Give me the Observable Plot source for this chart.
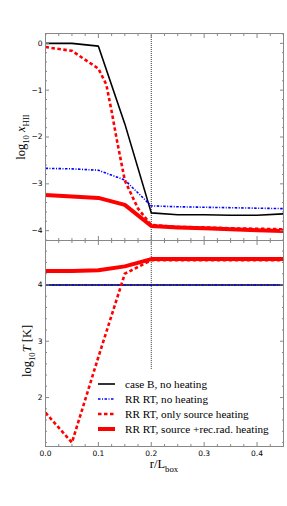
<!DOCTYPE html>
<html><head><meta charset="utf-8">
<script src="https://cdn.jsdelivr.net/npm/d3@7"></script>
<script src="https://cdn.jsdelivr.net/npm/@observablehq/plot@0.6"></script>
<style>
html,body{margin:0;padding:0;background:#fff;}
#chart svg{display:block;}
</style></head><body><div id="chart"></div>
<script>
// ---- data ----
const r = [0, 0.05, 0.1, 0.15, 0.2, 0.25, 0.3, 0.35, 0.4, 0.45];
const xHII_caseB   = [0, 0, -0.06, -1.72, -3.62, -3.66, -3.66, -3.67, -3.67, -3.64];
const xHII_rrNoHeat = [-2.67, -2.68, -2.71, -2.92, -3.47, -3.49, -3.50, -3.51, -3.52, -3.53];
const r_src = [0, 0.05, 0.1, 0.115, 0.125, 0.135, 0.15, 0.175, 0.2, 0.25, 0.3, 0.35, 0.4, 0.45];
const xHII_rrSource = [-0.08, -0.16, -0.54, -0.88, -1.45, -2.07, -2.93, -3.53, -3.88, -3.92, -3.93, -3.95, -3.96, -3.97];
const xHII_rrFull  = [-3.24, -3.27, -3.30, -3.45, -3.90, -3.93, -3.95, -3.97, -3.99, -4.01];

const T_caseB   = [4, 4, 4, 4, 4, 4, 4, 4, 4, 4];
const T_rrNoHeat = [4, 4, 4, 4, 4, 4, 4, 4, 4, 4];
const T_rrSource = [1.73, 1.2, 2.72, 4.2, 4.44, 4.44, 4.44, 4.44, 4.44, 4.44];
const T_rrFull  = [4.25, 4.25, 4.26, 4.33, 4.46, 4.46, 4.46, 4.46, 4.46, 4.46];

const markerR = [0.2];
const markerTLow = 2.5;

const xTicks = [0, 0.1, 0.2, 0.3, 0.4];
const xTickLabels = ["0.0", "0.1", "0.2", "0.3", "0.4"];
const xMinor = [0.025, 0.05, 0.075, 0.125, 0.15, 0.175, 0.225, 0.25, 0.275, 0.325, 0.35, 0.375, 0.425];
const yTicksTop = [0, -1, -2, -3, -4];
const yTickLabelsTop = ["0", "−1", "−2", "−3", "−4"];
const yMinorTop = [0.2, -0.2, -0.4, -0.6, -0.8, -1.2, -1.4, -1.6, -1.8, -2.2, -2.4, -2.6, -2.8, -3.2, -3.4, -3.6, -3.8, -4.2];
const yTicksBot = [2, 3, 4];
const yTickLabelsBot = ["2", "3", "4"];
const yMinorBot = [1.2, 1.4, 1.6, 1.8, 2.2, 2.4, 2.6, 2.8, 3.2, 3.4, 3.6, 3.8, 4.2, 4.4, 4.6];

const legendLabels = ["case B, no heating", "RR RT, no heating", "RR RT, only source heating", "RR RT, source +rec.rad. heating"];

// ---- styles ----
const W = 287, ML = 45, MR = 4;
const frameColor = "#888";
const sBlack = {stroke: "black", strokeWidth: 1.6, strokeLinecap: "butt"};
const sBlue = {stroke: "#0000ff", strokeWidth: 1.6, strokeDasharray: "2.5,1.5,1,1.5", strokeLinecap: "butt"};
const sRedDash = {stroke: "#ff0000", strokeWidth: 2.6, strokeDasharray: "3.5,2.5", strokeLinecap: "butt"};
const sRedThick = {stroke: "#ff0000", strokeWidth: 4, strokeLinecap: "butt"};
const styles = [sBlack, sBlue, sRedDash, sRedThick];

const pts = (xs, ys) => xs.map((x, i) => ({x, y: ys[i]}));

function tickMarks(xMaj, xMin, yMaj, yMin, yLabels, showX) {
  const m = [];
  for (const a of ["left", "right"]) {
    m.push(Plot.axisY({anchor: a, ticks: yMaj, tickSize: -4, fill: "none", stroke: frameColor}));
    m.push(Plot.axisY({anchor: a, ticks: yMin, tickSize: -2, fill: "none", stroke: frameColor}));
  }
  for (const a of ["top", "bottom"]) {
    m.push(Plot.axisX({anchor: a, ticks: xMaj, tickSize: -4, fill: "none", stroke: frameColor}));
    m.push(Plot.axisX({anchor: a, ticks: xMin, tickSize: -2, fill: "none", stroke: frameColor}));
  }
  m.push(Plot.axisY({anchor: "left", ticks: yMaj, tickSize: 0, tickPadding: 3, label: null,
    tickFormat: d => yLabels[yMaj.indexOf(d)], fill: "black"}));
  if (showX) m.push(Plot.axisX({anchor: "bottom", ticks: xMaj, tickSize: 0, tickPadding: 4, label: null,
    tickFormat: d => xTickLabels[xMaj.indexOf(d)], fill: "black"}));
  return m;
}

const common = {
  width: W, marginLeft: ML, marginRight: MR,
  x: {domain: [0, 0.45]},
  style: {fontFamily: "'DejaVu Sans', sans-serif", fontSize: "7.5px", background: "white", color: "black", overflow: "visible"}
};

const lineOpts = st => ({x: "x", y: "y", clip: true, ...st});

const topPlot = Plot.plot({
  ...common,
  height: 240, marginTop: 33, marginBottom: 0,
  y: {domain: [-4.21, 0.21]},
  marks: [
    Plot.ruleX(markerR, {stroke: "black", strokeWidth: 0.8, strokeDasharray: "1,1"}),
    Plot.line(pts(r, xHII_caseB), lineOpts(sBlack)),
    Plot.line(pts(r, xHII_rrNoHeat), lineOpts(sBlue)),
    Plot.line(pts(r_src, xHII_rrSource), lineOpts(sRedDash)),
    Plot.line(pts(r, xHII_rrFull), lineOpts(sRedThick)),
    Plot.frame({stroke: frameColor}),
    ...tickMarks(xTicks, xMinor, yTicksTop, yMinorTop, yTickLabelsTop, false)
  ]
});

const botPlot = Plot.plot({
  ...common,
  height: 266, marginTop: 0, marginBottom: 60,
  y: {domain: [1.13, 4.79]},
  marks: [
    Plot.ruleX(markerR.map(x => ({x, y1: markerTLow, y2: 4.79})), {x: "x", y1: "y1", y2: "y2", stroke: "black", strokeWidth: 0.8, strokeDasharray: "1,1"}),
    Plot.line(pts(r, T_caseB), lineOpts(sBlack)),
    Plot.line(pts(r, T_rrNoHeat), lineOpts(sBlue)),
    Plot.line(pts(r, T_rrSource), lineOpts(sRedDash)),
    Plot.line(pts(r, T_rrFull), lineOpts(sRedThick)),
    Plot.frame({stroke: frameColor}),
    ...tickMarks(xTicks, xMinor, yTicksBot, yMinorBot, yTickLabelsBot, true)
  ]
});

const chart = document.getElementById("chart");
chart.appendChild(topPlot);
chart.appendChild(botPlot);

const serif = "'Liberation Serif', 'Times New Roman', serif";
function addText(svg, {x, y, rotate = 0, anchor = "middle", parts, size}) {
  const t = d3.select(svg).append("text")
    .attr("transform", `translate(${x},${y}) rotate(${rotate})`)
    .attr("text-anchor", anchor).attr("font-family", serif)
    .attr("font-size", size).attr("fill", "black");
  let shift = 0;
  for (const p of parts) {
    const s = t.append("tspan").text(p.t);
    const target = p.sub ? size * 0.3 : 0;
    if (target !== shift) { s.attr("dy", target - shift); shift = target; }
    if (p.sub) s.attr("font-size", size * 0.7);
    if (p.it) s.attr("font-style", "italic");
  }
  return t;
}

addText(topPlot, {x: 25, y: 137, rotate: -90, size: 12.5,
  parts: [{t: "log"}, {t: "10", sub: true}, {t: " "}, {t: "x", it: true}, {t: "HII", sub: true}]});
addText(botPlot, {x: 31, y: 111, rotate: -90, size: 12.5,
  parts: [{t: "log"}, {t: "10", sub: true}, {t: "T", it: true}, {t: " [K]"}]});
addText(botPlot, {x: 164, y: 228, size: 12.5,
  parts: [{t: "r/L"}, {t: "box", sub: true}]});

// legend
const lg = d3.select(botPlot).append("g");
legendLabels.forEach((lab, i) => {
  const yy = 144 + i * 15;
  const st = styles[i];
  lg.append("line").attr("x1", 98).attr("x2", 115).attr("y1", yy).attr("y2", yy)
    .attr("stroke", st.stroke).attr("stroke-width", st.strokeWidth)
    .attr("stroke-dasharray", st.strokeDasharray || null);
  lg.append("text").attr("x", 125).attr("y", yy).attr("dy", "0.35em")
    .attr("text-anchor", "start")
    .attr("font-family", serif).attr("font-size", 11.2).attr("fill", "black").text(lab);
});
</script>
</body></html>
